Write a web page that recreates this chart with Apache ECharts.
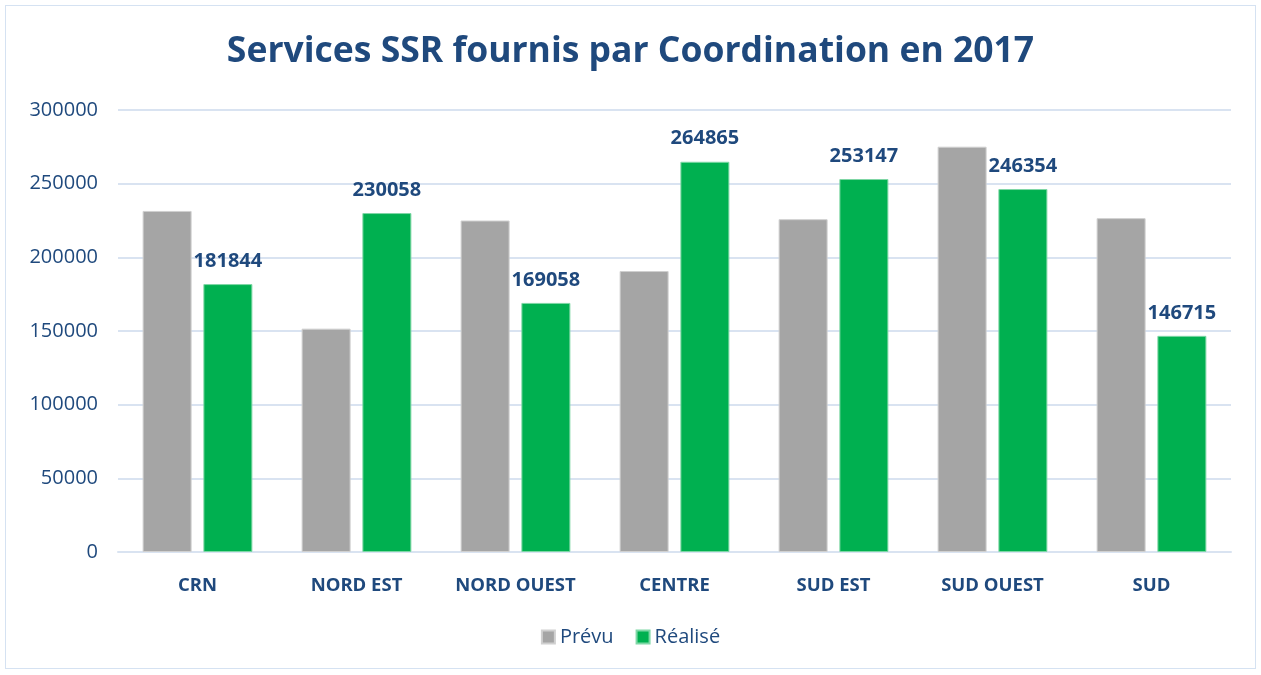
<!DOCTYPE html>
<html>
<head>
<meta charset="utf-8">
<script src="https://cdn.jsdelivr.net/npm/echarts@6/dist/echarts.min.js"></script>
<style>
  html, body { margin: 0; padding: 0; background: #fff; }
  #main { position: absolute; left: 5px; top: 5px; width: 1251px; height: 664px; border: 1px solid #d5e2f2; box-sizing: border-box; }
</style>
</head>
<body>
<div id="main"></div>
<script>
var categories = ['CRN', 'NORD EST', 'NORD OUEST', 'CENTRE', 'SUD EST', 'SUD OUEST', 'SUD'];
var prevu = [231500, 151600, 225000, 190700, 225900, 275100, 226600];
var realise = [181844, 230058, 169058, 264865, 253147, 246354, 146715];
var yTicks = [0, 50000, 100000, 150000, 200000, 250000, 300000];

var txt = '#1f497d';
var font = 'Open Sans';

var chart = echarts.init(document.getElementById('main'));
chart.setOption({
  animation: false,
  title: {
    text: 'Services SSR fournis par Coordination en 2017',
    left: 'center',
    top: 23,
    textStyle: { color: txt, fontSize: 35.5, fontWeight: 'bold', fontFamily: font }
  },
  legend: {
    bottom: 16,
    left: 'center',
    itemWidth: 13,
    itemHeight: 13,
    itemGap: 22,
    icon: 'rect',
    textStyle: { color: txt, fontSize: 20, fontFamily: font },
    data: ['Prévu', 'Réalisé']
  },
  grid: { left: 112, right: 24, top: 104, bottom: 116 },
  xAxis: {
    type: 'category',
    data: categories,
    axisTick: { show: false },
    axisLine: { lineStyle: { color: '#d9e3f1', width: 2 } },
    axisLabel: { color: txt, fontSize: 18.5, fontWeight: 'bold', fontFamily: font, margin: 24 }
  },
  yAxis: {
    type: 'value',
    min: 0,
    max: yTicks[yTicks.length - 1],
    interval: 50000,
    axisLine: { show: false },
    axisTick: { show: false },
    splitLine: { lineStyle: { color: '#d9e3f1', width: 2 } },
    axisLabel: { color: txt, fontSize: 20, fontFamily: font, margin: 20, formatter: function (v) { return String(v); } }
  },
  series: [
    {
      name: 'Prévu',
      type: 'bar',
      data: prevu,
      barWidth: 49,
      barGap: '24%',
      itemStyle: { color: '#a5a5a5', borderColor: '#d0d0d0', borderWidth: 1 }
    },
    {
      name: 'Réalisé',
      type: 'bar',
      data: realise,
      barWidth: 49,
      itemStyle: { color: '#00b050', borderColor: '#7fd7a6', borderWidth: 1 },
      label: {
        show: true,
        position: 'top',
        distance: 13,
        color: txt,
        fontSize: 20,
        fontWeight: 'bold',
        fontFamily: font
      }
    }
  ]
});
</script>
</body>
</html>
